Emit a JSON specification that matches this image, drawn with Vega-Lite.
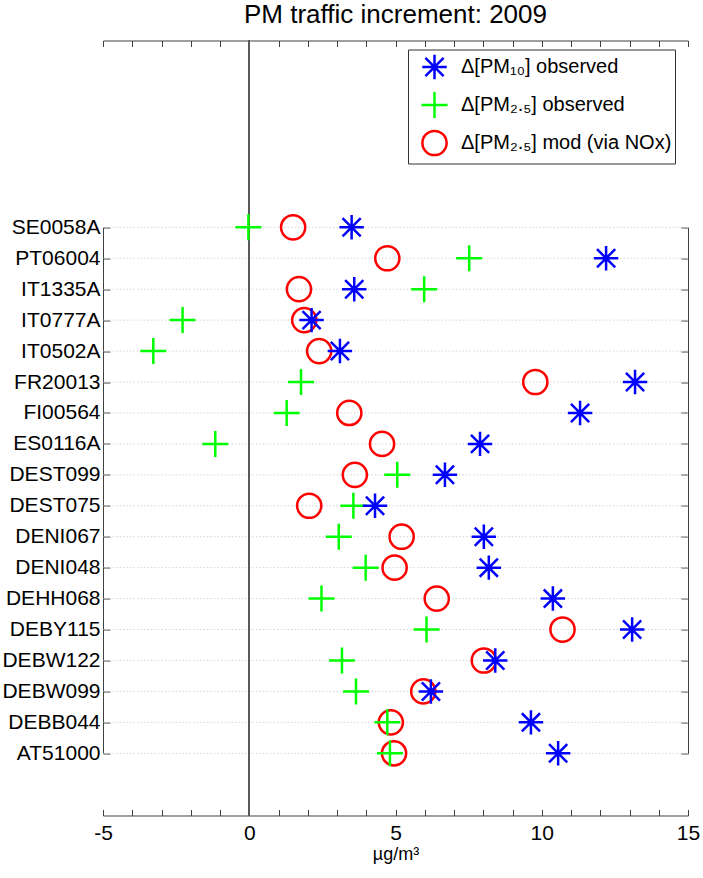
{
  "$schema": "https://vega.github.io/schema/vega-lite/v6.json",
  "width": 585,
  "height": 775,
  "autosize": "none",
  "padding": {"left": 103, "top": 40.5, "right": 15, "bottom": 62.5},
  "background": "white",
  "title": {"text": "PM traffic increment: 2009", "fontSize": 26, "fontWeight": "normal", "font": "Liberation Sans", "color": "#000", "offset": 12, "anchor": "middle"},
  "data": {"values": [
    {"station": "SE0058A", "pm10": 3.50, "pm25": -0.03, "mod": 1.50},
    {"station": "PT06004", "pm10": 12.20, "pm25": 7.52, "mod": 4.72},
    {"station": "IT1335A", "pm10": 3.59, "pm25": 5.98, "mod": 1.70},
    {"station": "IT0777A", "pm10": 2.13, "pm25": -2.28, "mod": 1.88},
    {"station": "IT0502A", "pm10": 3.10, "pm25": -3.28, "mod": 2.39},
    {"station": "FR20013", "pm10": 13.19, "pm25": 1.77, "mod": 9.78},
    {"station": "FI00564", "pm10": 11.31, "pm25": 1.28, "mod": 3.42},
    {"station": "ES0116A", "pm10": 7.89, "pm25": -1.16, "mod": 4.54},
    {"station": "DEST099", "pm10": 6.69, "pm25": 5.06, "mod": 3.61},
    {"station": "DEST075", "pm10": 4.30, "pm25": 3.56, "mod": 2.05},
    {"station": "DENI067", "pm10": 8.02, "pm25": 3.06, "mod": 5.21},
    {"station": "DENI048", "pm10": 8.19, "pm25": 3.98, "mod": 4.97},
    {"station": "DEHH068", "pm10": 10.38, "pm25": 2.47, "mod": 6.41},
    {"station": "DEBY115", "pm10": 13.09, "pm25": 6.06, "mod": 10.71},
    {"station": "DEBW122", "pm10": 8.41, "pm25": 3.17, "mod": 8.02},
    {"station": "DEBW099", "pm10": 6.21, "pm25": 3.65, "mod": 5.95},
    {"station": "DEBB044", "pm10": 9.63, "pm25": 4.72, "mod": 4.84},
    {"station": "AT51000", "pm10": 10.56, "pm25": 4.81, "mod": 4.95}
  ]},
  "transform": [{"fold": ["mod", "pm25", "pm10"], "as": ["series", "value"]}],
  "layer": [
    {
      "transform": [{"filter": "datum.series === 'mod'"}],
      "mark": {"type": "rule", "strokeDash": [1.5, 2], "color": "#d4d4d4", "strokeWidth": 1},
      "encoding": {
        "y": {"field": "station", "type": "nominal",
          "scale": {"type": "point", "domain": ["SE0058A","PT06004","IT1335A","IT0777A","IT0502A","FR20013","FI00564","ES0116A","DEST099","DEST075","DENI067","DENI048","DEHH068","DEBY115","DEBW122","DEBW099","DEBB044","AT51000"], "range": [186.8, 712.8], "padding": 0},
          "axis": {"orient": "right", "labels": false, "title": null, "tickSize": -7, "domain": true, "grid": false}}
      }
    },
    {
      "mark": {"type": "rule", "color": "#5a5a5a", "strokeWidth": 1},
      "encoding": {
        "x": {"datum": 0, "type": "quantitative",
          "scale": {"domain": [-5, 15], "nice": false, "zero": false},
          "axis": {"orient": "top", "labels": false, "title": null, "tickSize": -6, "domain": true, "grid": false,
            "values": [-5,-4,-3,-2,-1,0,1,2,3,4,5,6,7,8,9,10,11,12,13,14,15]}}
      }
    },
    {
      "mark": {"type": "point", "filled": false, "size": 676, "strokeWidth": 2.5, "opacity": 1},
      "encoding": {
        "x": {"field": "value", "type": "quantitative",
          "scale": {"domain": [-5, 15], "nice": false, "zero": false},
          "axis": {"orient": "bottom", "title": "µg/m³", "titleFontSize": 18, "titleFontWeight": "normal", "titlePadding": 2,
            "tickSize": -6, "labelPadding": 13, "labelFontSize": 21, "grid": false, "labelOverlap": false, "labelFlush": false,
            "values": [-5,-4,-3,-2,-1,0,1,2,3,4,5,6,7,8,9,10,11,12,13,14,15],
            "labelExpr": "datum.value % 5 === 0 ? '' + datum.value : ''"}},
        "y": {"field": "station", "type": "nominal",
          "scale": {"type": "point", "domain": ["SE0058A","PT06004","IT1335A","IT0777A","IT0502A","FR20013","FI00564","ES0116A","DEST099","DEST075","DENI067","DENI048","DEHH068","DEBY115","DEBW122","DEBW099","DEBB044","AT51000"], "range": [186.8, 712.8], "padding": 0},
          "axis": {"orient": "left", "title": null, "tickSize": -7, "labelPadding": 10, "labelFontSize": 21, "grid": false}},
        "color": {"field": "series", "type": "nominal",
          "scale": {"domain": ["pm10", "pm25", "mod"], "range": ["#0000ff", "#00ff00", "#ff0000"]},
          "legend": {"title": null, "orient": "none", "legendX": 305, "legendY": 9,
            "labelExpr": "datum.value === 'pm10' ? 'Δ[PM₁₀] observed' : (datum.value === 'pm25' ? 'Δ[PM₂.₅] observed' : 'Δ[PM₂.₅] mod (via NOx)')"}},
        "shape": {"field": "series", "type": "nominal",
          "scale": {"domain": ["pm10", "pm25", "mod"], "range": [
            "M0,-0.94L0,0.94M-0.94,0L0.94,0M-0.7,-0.7L0.7,0.7M-0.7,0.7L0.7,-0.7",
            "M0,-1L0,1M-1,0L1,0",
            "M0.93,0A0.93,0.93 0 1,1 -0.93,0A0.93,0.93 0 1,1 0.93,0Z"]},
          "legend": {"title": null, "orient": "none", "legendX": 305, "legendY": 9,
            "labelExpr": "datum.value === 'pm10' ? 'Δ[PM₁₀] observed' : (datum.value === 'pm25' ? 'Δ[PM₂.₅] observed' : 'Δ[PM₂.₅] mod (via NOx)')"}}
      }
    }
  ],
  "resolve": {"axis": {"x": "independent", "y": "independent"}},
  "config": {
    "font": "Liberation Sans",
    "view": {"stroke": null},
    "axis": {"domainColor": "#404040", "tickColor": "#404040", "labelColor": "#000", "titleColor": "#000", "labelFont": "Liberation Sans", "titleFont": "Liberation Sans", "domainWidth": 1, "tickWidth": 1},
    "legend": {"strokeColor": "#333333", "fillColor": "#ffffff", "padding": 3, "symbolOffset": 9, "rowPadding": 2, "symbolSize": 676, "symbolStrokeWidth": 2.5, "labelFontSize": 20, "labelFont": "Liberation Sans", "labelColor": "#000", "labelOffset": 12, "labelLimit": 400}
  }
}
